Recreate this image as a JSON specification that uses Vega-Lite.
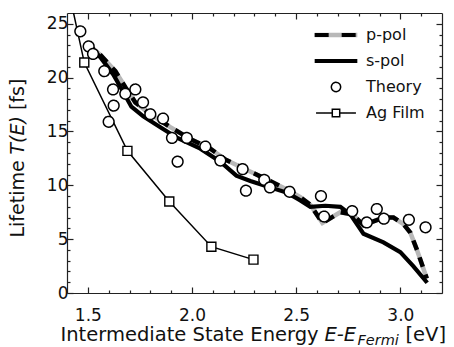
{
  "$schema": "https://vega.github.io/schema/vega-lite/v6.json",
  "width": 375,
  "height": 280,
  "autosize": {"type": "none"},
  "padding": {"left": 67, "top": 13, "right": 12, "bottom": 54},
  "background": "white",
  "datasets": {
    "rows": [
      {"series": "p-pol", "x": 1.493, "y": 23.2},
      {"series": "p-pol", "x": 1.560, "y": 22.1},
      {"series": "p-pol", "x": 1.632, "y": 20.6},
      {"series": "p-pol", "x": 1.680, "y": 19.1},
      {"series": "p-pol", "x": 1.728, "y": 17.7},
      {"series": "p-pol", "x": 1.800, "y": 16.6},
      {"series": "p-pol", "x": 1.896, "y": 15.4},
      {"series": "p-pol", "x": 1.992, "y": 14.3},
      {"series": "p-pol", "x": 2.088, "y": 13.4},
      {"series": "p-pol", "x": 2.160, "y": 12.4},
      {"series": "p-pol", "x": 2.256, "y": 11.5},
      {"series": "p-pol", "x": 2.352, "y": 10.6},
      {"series": "p-pol", "x": 2.458, "y": 9.6},
      {"series": "p-pol", "x": 2.520, "y": 8.9},
      {"series": "p-pol", "x": 2.568, "y": 8.2},
      {"series": "p-pol", "x": 2.626, "y": 6.5},
      {"series": "p-pol", "x": 2.712, "y": 7.5},
      {"series": "p-pol", "x": 2.770, "y": 7.3},
      {"series": "p-pol", "x": 2.823, "y": 6.3},
      {"series": "p-pol", "x": 2.856, "y": 6.55},
      {"series": "p-pol", "x": 2.919, "y": 7.0},
      {"series": "p-pol", "x": 2.967, "y": 7.0},
      {"series": "p-pol", "x": 3.015, "y": 6.4},
      {"series": "p-pol", "x": 3.048, "y": 5.6},
      {"series": "p-pol", "x": 3.080, "y": 4.0},
      {"series": "p-pol", "x": 3.127, "y": 1.35},
      {"series": "s-pol", "x": 1.493, "y": 23.2},
      {"series": "s-pol", "x": 1.560, "y": 21.9},
      {"series": "s-pol", "x": 1.622, "y": 20.3},
      {"series": "s-pol", "x": 1.666, "y": 18.8},
      {"series": "s-pol", "x": 1.709, "y": 17.3},
      {"series": "s-pol", "x": 1.766, "y": 16.4},
      {"series": "s-pol", "x": 1.848, "y": 15.4},
      {"series": "s-pol", "x": 1.930, "y": 14.4},
      {"series": "s-pol", "x": 2.040, "y": 13.4},
      {"series": "s-pol", "x": 2.136, "y": 12.2},
      {"series": "s-pol", "x": 2.213, "y": 10.9},
      {"series": "s-pol", "x": 2.280, "y": 10.4},
      {"series": "s-pol", "x": 2.362, "y": 9.9},
      {"series": "s-pol", "x": 2.458, "y": 9.3},
      {"series": "s-pol", "x": 2.520, "y": 8.6},
      {"series": "s-pol", "x": 2.568, "y": 8.0},
      {"series": "s-pol", "x": 2.640, "y": 8.1},
      {"series": "s-pol", "x": 2.712, "y": 8.0},
      {"series": "s-pol", "x": 2.760, "y": 7.3},
      {"series": "s-pol", "x": 2.823, "y": 5.5},
      {"series": "s-pol", "x": 2.919, "y": 4.7},
      {"series": "s-pol", "x": 3.000, "y": 3.8},
      {"series": "s-pol", "x": 3.062, "y": 2.5},
      {"series": "s-pol", "x": 3.129, "y": 0.95},
      {"series": "Ag Film", "x": 1.400, "y": 28.8},
      {"series": "Ag Film", "x": 1.483, "y": 21.4},
      {"series": "Ag Film", "x": 1.690, "y": 13.2},
      {"series": "Ag Film", "x": 1.891, "y": 8.5},
      {"series": "Ag Film", "x": 2.093, "y": 4.3},
      {"series": "Ag Film", "x": 2.295, "y": 3.1},
      {"series": "Theory", "x": 1.464, "y": 24.3},
      {"series": "Theory", "x": 1.504, "y": 22.9},
      {"series": "Theory", "x": 1.525, "y": 22.2},
      {"series": "Theory", "x": 1.579, "y": 20.6},
      {"series": "Theory", "x": 1.621, "y": 18.9},
      {"series": "Theory", "x": 1.624, "y": 17.4},
      {"series": "Theory", "x": 1.600, "y": 15.9},
      {"series": "Theory", "x": 1.680, "y": 18.5},
      {"series": "Theory", "x": 1.728, "y": 18.9},
      {"series": "Theory", "x": 1.765, "y": 17.7},
      {"series": "Theory", "x": 1.800, "y": 16.6},
      {"series": "Theory", "x": 1.861, "y": 16.2},
      {"series": "Theory", "x": 1.904, "y": 14.4},
      {"series": "Theory", "x": 1.931, "y": 12.2},
      {"series": "Theory", "x": 1.975, "y": 14.4},
      {"series": "Theory", "x": 2.064, "y": 13.6},
      {"series": "Theory", "x": 2.136, "y": 12.3},
      {"series": "Theory", "x": 2.243, "y": 11.5},
      {"series": "Theory", "x": 2.259, "y": 9.5},
      {"series": "Theory", "x": 2.347, "y": 10.5},
      {"series": "Theory", "x": 2.374, "y": 9.8},
      {"series": "Theory", "x": 2.468, "y": 9.4},
      {"series": "Theory", "x": 2.619, "y": 9.0},
      {"series": "Theory", "x": 2.634, "y": 7.1},
      {"series": "Theory", "x": 2.769, "y": 7.6},
      {"series": "Theory", "x": 2.839, "y": 6.55},
      {"series": "Theory", "x": 2.887, "y": 7.8},
      {"series": "Theory", "x": 2.921, "y": 6.9},
      {"series": "Theory", "x": 3.041, "y": 6.8},
      {"series": "Theory", "x": 3.121, "y": 6.1}
    ]
  },
  "data": {"name": "rows"},
  "resolve": {"axis": {"x": "independent", "y": "independent"}},
  "layer": [
    {
      "transform": [{"filter": "datum.series === 'p-pol'"}],
      "mark": {"type": "line", "strokeWidth": 4.5, "clip": true},
      "encoding": {
        "x": {"field": "x", "type": "quantitative", "scale": {"domain": [1.4, 3.2], "nice": false, "zero": false},
          "axis": {"orient": "bottom", "values": [1.5,1.6,1.7,1.8,1.9,2.0,2.1,2.2,2.3,2.4,2.5,2.6,2.7,2.8,2.9,3.0,3.1],
            "tickSize": {"condition": {"test": "abs(datum.value*2 - round(datum.value*2)) < 0.001", "value": -6}, "value": -3},
            "labelExpr": "abs(datum.value*2 - round(datum.value*2)) < 0.001 ? format(datum.value, '.1f') : ''",
            "labelPadding": 20,
            "title": "Intermediate State Energy", "titleFontSize": 19.5, "titleX": -7, "titleY": 47.5, "titleAlign": "left", "titleBaseline": "alphabetic", "titleAngle": 0}},
        "y": {"field": "y", "type": "quantitative", "scale": {"domain": [0, 26], "nice": false, "zero": false},
          "axis": {"orient": "left", "values": [0,1,2,3,4,5,6,7,8,9,10,11,12,13,14,15,16,17,18,19,20,21,22,23,24,25],
            "tickSize": {"condition": {"test": "datum.value % 5 === 0", "value": -6}, "value": -3},
            "labelExpr": "datum.value % 5 === 0 ? datum.label : ''",
            "labelPadding": 5,
            "title": "Lifetime", "titleX": -43.5, "titleY": 224, "titleAlign": "left", "titleBaseline": "alphabetic", "titleAngle": 270}},
        "stroke": {"field": "series", "type": "nominal",
          "scale": {"domain": ["p-pol"], "range": ["#b8b8b8"]},
          "legend": {"title": null, "orient": "none", "legendX": 261, "legendY": 14,
            "labelFont": "DejaVu Sans", "labelFontSize": 16, "labelColor": "transparent", "labelOffset": 22,
            "symbolType": "M-4.6,0H4.6", "symbolSize": 86, "symbolStrokeWidth": 4.5, "symbolStrokeColor": "#b8b8b8"}}
      }
    },
    {
      "transform": [{"filter": "datum.series === 's-pol'"}],
      "mark": {"type": "line", "stroke": "black", "strokeWidth": 4.2, "clip": true},
      "encoding": {
        "x": {"field": "x", "type": "quantitative", "scale": {"domain": [1.4, 3.2], "nice": false, "zero": false},
          "axis": {"orient": "top", "values": [1.5,1.6,1.7,1.8,1.9,2.0,2.1,2.2,2.3,2.4,2.5,2.6,2.7,2.8,2.9,3.0,3.1],
            "tickSize": {"condition": {"test": "abs(datum.value*2 - round(datum.value*2)) < 0.001", "value": -6}, "value": -3},
            "labels": false, "title": null}},
        "y": {"field": "y", "type": "quantitative", "scale": {"domain": [0, 26], "nice": false, "zero": false},
          "axis": {"orient": "right", "values": [0,1,2,3,4,5,6,7,8,9,10,11,12,13,14,15,16,17,18,19,20,21,22,23,24,25],
            "tickSize": {"condition": {"test": "datum.value % 5 === 0", "value": -6}, "value": -3},
            "labels": false, "title": null}}
      }
    },
    {
      "transform": [{"filter": "datum.series === 'p-pol'"}],
      "mark": {"type": "line", "stroke": "black", "strokeWidth": 4.5, "strokeDash": [10, 8], "clip": true},
      "encoding": {
        "x": {"field": "x", "type": "quantitative", "scale": {"domain": [1.4, 3.2], "nice": false, "zero": false},
          "axis": {"orient": "bottom", "ticks": false, "labels": false, "domain": false,
            "title": "E-E", "titleFontStyle": "italic", "titleFontSize": 19.5, "titleX": 257, "titleY": 47.5, "titleAlign": "left", "titleBaseline": "alphabetic", "titleAngle": 0}},
        "y": {"field": "y", "type": "quantitative", "scale": {"domain": [0, 26], "nice": false, "zero": false},
          "axis": {"orient": "left", "ticks": false, "labels": false, "domain": false,
            "title": "T(E)", "titleFontStyle": "italic", "titleX": -43.5, "titleY": 141, "titleAlign": "left", "titleBaseline": "alphabetic", "titleAngle": 270}}
      }
    },
    {
      "transform": [{"filter": "datum.series === 'Ag Film'"}],
      "mark": {"type": "line", "stroke": "black", "strokeWidth": 1.5, "clip": true},
      "encoding": {
        "x": {"field": "x", "type": "quantitative", "scale": {"domain": [1.4, 3.2], "nice": false, "zero": false},
          "axis": {"orient": "bottom", "ticks": false, "labels": false, "domain": false,
            "title": "Fermi", "titleFontStyle": "italic", "titleFontSize": 14.5, "titleX": 290, "titleY": 51, "titleAlign": "left", "titleBaseline": "alphabetic", "titleAngle": 0}},
        "y": {"field": "y", "type": "quantitative", "scale": {"domain": [0, 26], "nice": false, "zero": false},
          "axis": {"orient": "left", "ticks": false, "labels": false, "domain": false,
            "title": "[fs]", "titleX": -43.5, "titleY": 96.6, "titleAlign": "left", "titleBaseline": "alphabetic", "titleAngle": 270}}
      }
    },
    {
      "transform": [{"filter": "datum.series === 'Ag Film'"}],
      "mark": {"type": "point", "shape": "square", "size": 81, "fill": "white", "stroke": "black", "strokeWidth": 1.4, "opacity": 1, "clip": true},
      "encoding": {
        "x": {"field": "x", "type": "quantitative", "scale": {"domain": [1.4, 3.2], "nice": false, "zero": false},
          "axis": {"orient": "bottom", "ticks": false, "labels": false, "domain": false,
            "title": "[eV]", "titleFontSize": 19.5, "titleX": 338, "titleY": 47.5, "titleAlign": "left", "titleBaseline": "alphabetic", "titleAngle": 0}},
        "y": {"field": "y", "type": "quantitative", "scale": {"domain": [0, 26], "nice": false, "zero": false}, "axis": null}
      }
    },
    {
      "transform": [{"filter": "datum.series === 'Theory'"}],
      "mark": {"type": "point", "size": 115, "fill": "white", "stroke": "black", "opacity": 1, "clip": true},
      "encoding": {
        "x": {"field": "x", "type": "quantitative", "scale": {"domain": [1.4, 3.2], "nice": false, "zero": false}, "axis": null},
        "y": {"field": "y", "type": "quantitative", "scale": {"domain": [0, 26], "nice": false, "zero": false}, "axis": null},
        "shape": {"field": "series", "type": "nominal",
          "scale": {"domain": ["p-pol", "s-pol", "Theory", "Ag Film"],
            "range": ["M-4.6,0H4.6", "M-4.6,0H4.6", "circle", "M-4.3,0H-0.8M0.8,0H4.3M-0.8,-0.8H0.8V0.8H-0.8Z"]},
          "legend": {"title": null, "orient": "none", "legendX": 261, "legendY": 14,
            "labelFont": "DejaVu Sans", "labelFontSize": 16, "labelColor": "#111", "labelOffset": 22,
            "rowPadding": 10, "symbolSize": 86}},
        "strokeWidth": {"field": "series", "type": "nominal",
          "scale": {"type": "ordinal", "domain": ["p-pol", "s-pol", "Theory", "Ag Film"], "range": [4, 4, 1.5, 1.5]},
          "legend": {"title": null, "orient": "none", "legendX": 261, "legendY": 14,
            "labelFont": "DejaVu Sans", "labelFontSize": 16, "labelColor": "#111", "labelOffset": 22,
            "rowPadding": 10, "symbolSize": 86}},
        "strokeDash": {"field": "series", "type": "nominal",
          "scale": {"domain": ["p-pol", "s-pol", "Theory", "Ag Film"], "range": [[14, 13], [1, 0], [1, 0], [1, 0]]},
          "legend": {"title": null, "orient": "none", "legendX": 261, "legendY": 14,
            "labelFont": "DejaVu Sans", "labelFontSize": 16, "labelColor": "#111", "labelOffset": 22,
            "rowPadding": 10, "symbolSize": 86}}
      }
    }
  ],
  "config": {
    "view": {"stroke": null},
    "axis": {"grid": false, "labelFont": "DejaVu Sans", "labelFontSize": 17, "labelColor": "#111",
      "titleFont": "DejaVu Sans", "titleFontSize": 19, "titleColor": "#111", "titleFontWeight": "normal",
      "domainColor": "#222", "domainWidth": 1.2, "tickColor": "#222", "tickWidth": 1.2,
      "labelFlush": false, "labelOverlap": false}
  }
}
